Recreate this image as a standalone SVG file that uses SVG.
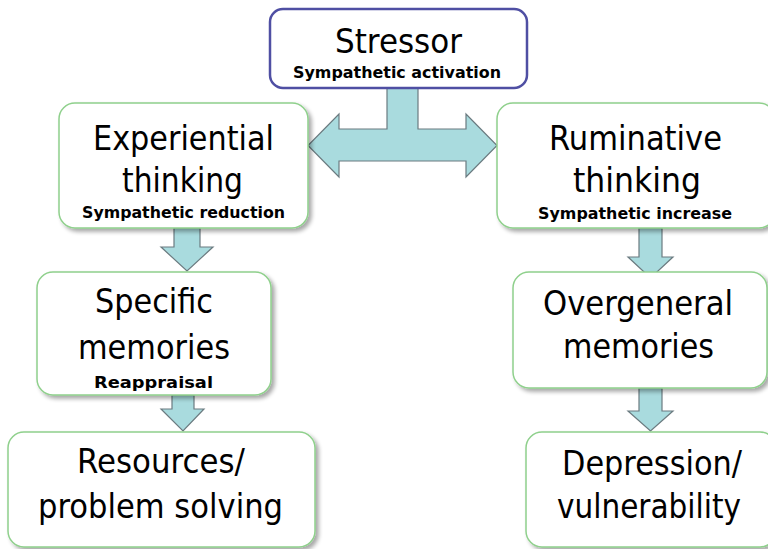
<svg xmlns="http://www.w3.org/2000/svg" width="768" height="549" viewBox="0 0 768 549">
<defs>
<filter id="sh" x="-10%" y="-10%" width="130%" height="130%">
<feGaussianBlur in="SourceAlpha" stdDeviation="2"/>
<feOffset dx="3" dy="3" result="b"/>
<feComponentTransfer><feFuncA type="linear" slope="0.35"/></feComponentTransfer>
<feMerge><feMergeNode/><feMergeNode in="SourceGraphic"/></feMerge>
</filter>
</defs>
<style>
.box{fill:#ffffff;stroke:#8fd08c;stroke-width:1.5;filter:url(#sh)}
.top{fill:#ffffff;stroke:#4f4fa3;stroke-width:2.5}
.arr{fill:#a9dbde;stroke:#6b7b80;stroke-width:1.2;stroke-linejoin:miter}
.t{font-family:"DejaVu Sans","Liberation Sans",sans-serif;font-size:34px;fill:#000;text-anchor:middle}
.s{font-family:"DejaVu Sans","Liberation Sans",sans-serif;font-size:16.5px;font-weight:bold;fill:#000;text-anchor:middle}
</style>
<rect width="768" height="549" fill="#ffffff"/>
<g id="connectors">
<polygon class="arr" points="387,86 387,129 339,129 339,114 308,145.5 339,177 339,161 466,161 466,177 497,145.5 466,114 466,129 418,129 418,86"/>
<polygon class="arr" points="174,228 200,228 200,247 213,247 187,271 161,247 174,247"/>
<polygon class="arr" points="172,395 194,395 194,409 204,409 183,431 161,409 172,409"/>
<polygon class="arr" points="639,228 662,228 662,257 673,257 650.5,278 628,257 639,257"/>
<polygon class="arr" points="639,388 662,388 662,411 673,411 650.5,431 628,411 639,411"/>
</g>
<g id="stressor">
<rect class="top" x="270" y="9" width="257" height="79" rx="13"/>
<text class="t" x="398.5" y="53" textLength="127" lengthAdjust="spacingAndGlyphs">Stressor</text>
<text class="s" x="397" y="78" textLength="208" lengthAdjust="spacingAndGlyphs">Sympathetic activation</text>
</g>
<g id="experiential">
<rect class="box" x="59" y="103" width="249" height="125" rx="16"/>
<text class="t" x="183.5" y="150" textLength="181" lengthAdjust="spacingAndGlyphs">Experiential</text>
<text class="t" x="182.5" y="192" textLength="121" lengthAdjust="spacingAndGlyphs">thinking</text>
<text class="s" x="183.5" y="218" textLength="203" lengthAdjust="spacingAndGlyphs">Sympathetic reduction</text>
</g>
<g id="ruminative">
<rect class="box" x="497" y="103" width="278" height="125" rx="16"/>
<text class="t" x="635.5" y="150" textLength="173" lengthAdjust="spacingAndGlyphs">Ruminative</text>
<text class="t" x="637" y="192" textLength="128" lengthAdjust="spacingAndGlyphs">thinking</text>
<text class="s" x="635" y="219" textLength="194" lengthAdjust="spacingAndGlyphs">Sympathetic increase</text>
</g>
<g id="specific">
<rect class="box" x="37" y="272" width="234" height="123" rx="16"/>
<text class="t" x="154" y="313" textLength="118" lengthAdjust="spacingAndGlyphs">Specific</text>
<text class="t" x="154" y="359" textLength="152" lengthAdjust="spacingAndGlyphs">memories</text>
<text class="s" x="153.5" y="388" textLength="119" lengthAdjust="spacingAndGlyphs">Reappraisal</text>
</g>
<g id="overgeneral">
<rect class="box" x="513" y="272" width="254" height="116" rx="16"/>
<text class="t" x="638" y="315" textLength="190" lengthAdjust="spacingAndGlyphs">Overgeneral</text>
<text class="t" x="638.5" y="358" textLength="151" lengthAdjust="spacingAndGlyphs">memories</text>
</g>
<g id="resources">
<rect class="box" x="8" y="432" width="307" height="115" rx="16"/>
<text class="t" x="161" y="473" textLength="168" lengthAdjust="spacingAndGlyphs">Resources/</text>
<text class="t" x="160.5" y="518" textLength="245" lengthAdjust="spacingAndGlyphs">problem solving</text>
</g>
<g id="depression">
<rect class="box" x="526" y="432" width="250" height="115" rx="16"/>
<text class="t" x="652" y="475" textLength="180" lengthAdjust="spacingAndGlyphs">Depression/</text>
<text class="t" x="649" y="518" textLength="184" lengthAdjust="spacingAndGlyphs">vulnerability</text>
</g>
</svg>
